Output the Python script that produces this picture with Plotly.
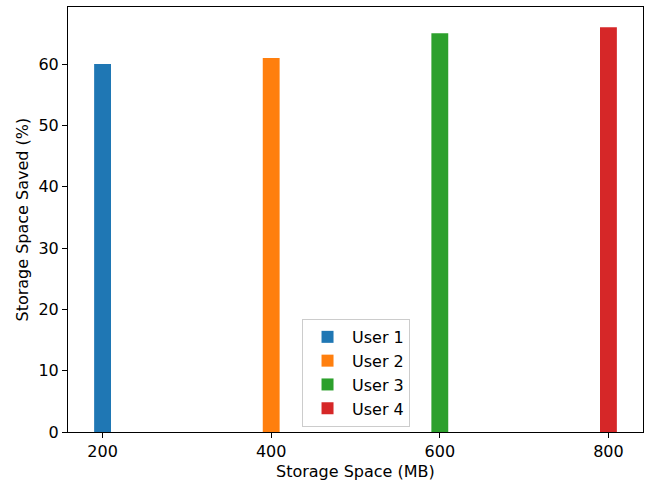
import plotly.graph_objects as go

storage_mb = [200, 400, 600, 800]
users = ["User 1", "User 2", "User 3", "User 4"]
saved_pct = [60, 61, 65, 66]
colors = ["#1f77b4", "#ff7f0e", "#2ca02c", "#d62728"]
x_ticks = [200, 400, 600, 800]
y_ticks = [0, 10, 20, 30, 40, 50, 60]
x_title = "Storage Space (MB)"
y_title = "Storage Space Saved (%)"

fig = go.Figure()
for u, xv, yv, c in zip(users, storage_mb, saved_pct, colors):
    fig.add_trace(go.Bar(x=[xv], y=[yv], name=u, width=20, marker=dict(color=c, line=dict(width=0))))

font = dict(family="DejaVu Sans", size=16, color="black")
fig.update_layout(
    width=646, height=481,
    margin=dict(l=68, r=3, t=7, b=49, autoexpand=False),
    paper_bgcolor="white", plot_bgcolor="white",
    font=font,
    showlegend=True,
    legend=dict(x=0.407, y=0.266, xanchor="left", yanchor="top",
                bgcolor="white", bordercolor="#cccccc", borderwidth=1,
                font=font, itemwidth=39),
    barmode="overlay",
    annotations=[
        dict(text=x_title, xref="paper", yref="paper", x=0.5, y=-0.093,
             xanchor="center", yanchor="middle", showarrow=False, font=font),
        dict(text=y_title, xref="paper", yref="paper", x=-0.08, y=0.5, textangle=-90,
             xanchor="center", yanchor="middle", showarrow=False, font=font),
    ],
)
fig.update_xaxes(range=[159, 841], tickvals=x_ticks, ticks="outside", ticklen=5, tickcolor="black",
                 showline=True, linecolor="black", linewidth=1, mirror=True, showgrid=False, zeroline=False,
                 automargin=False)
fig.update_yaxes(range=[0, 69.3], tickvals=y_ticks, ticks="outside", ticklen=5, tickcolor="black",
                 showline=True, linecolor="black", linewidth=1, mirror=True, showgrid=False, zeroline=False,
                 automargin=False)

fig.write_html("out.html", config={"displayModeBar": False},
               post_script="document.body.style.margin='0px';document.body.style.overflow='hidden';")
